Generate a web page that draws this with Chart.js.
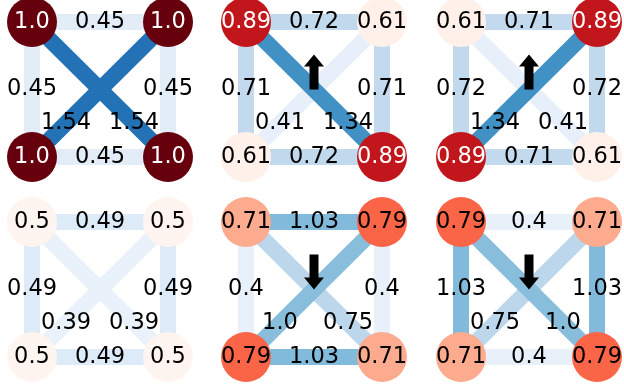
<!DOCTYPE html>
<html>
<head>
<meta charset="utf-8">
<script src="https://cdn.jsdelivr.net/npm/chart.js@4"></script>
<style>
  html, body { margin: 0; padding: 0; background: #fff; }
  #wrap { position: relative; width: 624px; height: 387px; overflow: hidden; }
  #wrap canvas { position: absolute; }
</style>
</head>
<body>
<div id="wrap"></div>
<script>
// node order: top-left, top-right, bottom-left, bottom-right
const nodeX = [0, 1, 0, 1];
const nodeY = [1, 1, 0, 0];
// edges: top, bottom, left, right, TL-BR, TR-BL
const edgePairs = [[0, 1], [2, 3], [0, 2], [1, 3], [0, 3], [1, 2]];
const labelAt = [0.5, 0.5, 0.5, 0.5, 0.75, 0.75];

const nodeValues = [
  [1.0, 1.0, 1.0, 1.0],
  [0.89, 0.61, 0.61, 0.89],
  [0.61, 0.89, 0.89, 0.61],
  [0.5, 0.5, 0.5, 0.5],
  [0.71, 0.79, 0.79, 0.71],
  [0.79, 0.71, 0.71, 0.79]
];
const edgeValues = [
  [0.45, 0.45, 0.45, 0.45, 1.54, 1.54],
  [0.72, 0.72, 0.71, 0.71, 1.34, 0.41],
  [0.71, 0.71, 0.72, 0.72, 0.41, 1.34],
  [0.49, 0.49, 0.49, 0.49, 0.39, 0.39],
  [1.03, 1.03, 0.4, 0.4, 0.75, 1.0],
  [0.4, 0.4, 1.03, 1.03, 1.0, 0.75]
];
// 1 = arrow up, -1 = arrow down, 0 = none
const arrowDir = [0, 1, 1, 0, -1, -1];

const BLUES = ["#f7fbff", "#deebf7", "#c6dbef", "#9ecae1", "#6baed6", "#4292c6", "#2171b5", "#08519c", "#08306b"];
const REDS = ["#fff5f0", "#fee0d2", "#fcbba1", "#fc9272", "#fb6a4a", "#ef3b2c", "#cb181d", "#a50f15", "#67000d"];

const hex = (h) => [1, 3, 5].map((i) => parseInt(h.slice(i, i + 2), 16));
const cmap = (stops, v, vmin, vmax) => {
  let t = Math.min(1, Math.max(0, (v - vmin) / (vmax - vmin))) * (stops.length - 1);
  const i = Math.min(stops.length - 2, Math.floor(t));
  const f = t - i;
  const a = hex(stops[i]), b = hex(stops[i + 1]);
  return "rgb(" + a.map((c, k) => Math.round(c + (b[k] - c) * f)).join(",") + ")";
};
const edgeColor = (v) => cmap(BLUES, v, 0.27, 1.97);
const nodeColor = (v) => cmap(REDS, v, 0.6, 0.97);
const darkNode = (v) => (v - 0.6) / 0.37 > 0.6;
const fmt = (v) => (Number.isInteger(v) ? v.toFixed(1) : String(v));

const FONT = '22.5px "DejaVu Sans"';
const EDGE_W = 16;
const NODE_R = 25;
const ARROW_LEN = 0.26;
const PAD = 45;
const SPAN_X = 136, SPAN_Y = 135;

const graphLabels = {
  id: "graphLabels",
  afterDatasetsDraw(chart) {
    const p = chart.options.plugins.graphLabels;
    const { ctx, scales: { x, y } } = chart;
    ctx.save();
    ctx.font = FONT;
    ctx.textAlign = "center";
    ctx.textBaseline = "middle";

    // arrow
    if (p.dir !== 0) {
      const cx = x.getPixelForValue(0.5);
      const y0 = y.getPixelForValue(0.5);
      const y1 = y.getPixelForValue(0.5 + ARROW_LEN);
      const tip = p.dir > 0 ? y1 : y0;
      const tail = p.dir > 0 ? y0 : y1;
      const s = p.dir > 0 ? 1 : -1;
      const headL = 12, headW = 10, shaftW = 4.5;
      ctx.fillStyle = "#000";
      ctx.beginPath();
      ctx.moveTo(cx, tip);
      ctx.lineTo(cx + headW, tip + s * headL);
      ctx.lineTo(cx + shaftW, tip + s * headL);
      ctx.lineTo(cx + shaftW, tail);
      ctx.lineTo(cx - shaftW, tail);
      ctx.lineTo(cx - shaftW, tip + s * headL);
      ctx.lineTo(cx - headW, tip + s * headL);
      ctx.closePath();
      ctx.fill();
    }

    // edge labels
    ctx.fillStyle = "#000";
    edgePairs.forEach(([a, b], i) => {
      const t = labelAt[i];
      const lx = nodeX[a] + (nodeX[b] - nodeX[a]) * t;
      const ly = nodeY[a] + (nodeY[b] - nodeY[a]) * t;
      ctx.fillText(fmt(p.edges[i]), x.getPixelForValue(lx), y.getPixelForValue(ly));
    });

    // node labels
    p.nodes.forEach((v, i) => {
      ctx.fillStyle = darkNode(v) ? "#fff" : "#000";
      ctx.fillText(fmt(v), x.getPixelForValue(nodeX[i]), y.getPixelForValue(nodeY[i]));
    });
    ctx.restore();
  }
};

const wrap = document.getElementById("wrap");

nodeValues.forEach((nodes, k) => {
  const col = k % 3, row = Math.floor(k / 3);
  const ox = 31.5 + 214.5 * col;
  const oy = 22 + 200 * row;
  const left = Math.round(ox - PAD), top = Math.round(oy - PAD);
  const padL = Math.round(ox) - left, padT = oy - top;
  const w = SPAN_X + 2 * PAD, h = SPAN_Y + 2 * PAD;

  const canvas = document.createElement("canvas");
  canvas.width = w;
  canvas.height = h;
  canvas.style.left = left + "px";
  canvas.style.top = top + "px";
  wrap.appendChild(canvas);

  const edges = edgeValues[k];
  const datasets = edgePairs.map(([a, b], i) => ({
    type: "line",
    data: [{ x: nodeX[a], y: nodeY[a] }, { x: nodeX[b], y: nodeY[b] }],
    borderColor: edgeColor(edges[i]),
    borderWidth: EDGE_W,
    borderCapStyle: "butt",
    pointRadius: 0,
    fill: false,
    clip: false,
    order: 10 - edges[i]
  }));
  datasets.push({
    type: "scatter",
    data: nodes.map((v, i) => ({ x: nodeX[i], y: nodeY[i] })),
    pointRadius: NODE_R,
    pointBackgroundColor: nodes.map(nodeColor),
    pointBorderWidth: 0,
    clip: false,
    order: 0
  });

  new Chart(canvas, {
    type: "scatter",
    data: { datasets },
    options: {
      responsive: false,
      animation: false,
      events: [],
      layout: { padding: { left: padL, right: w - padL - SPAN_X, top: padT, bottom: h - padT - SPAN_Y } },
      scales: {
        x: { type: "linear", min: 0, max: 1, display: false },
        y: { type: "linear", min: 0, max: 1, display: false }
      },
      plugins: {
        legend: { display: false },
        tooltip: { enabled: false },
        graphLabels: { nodes, edges, dir: arrowDir[k] }
      }
    },
    plugins: [graphLabels]
  });
});
</script>
</body>
</html>
